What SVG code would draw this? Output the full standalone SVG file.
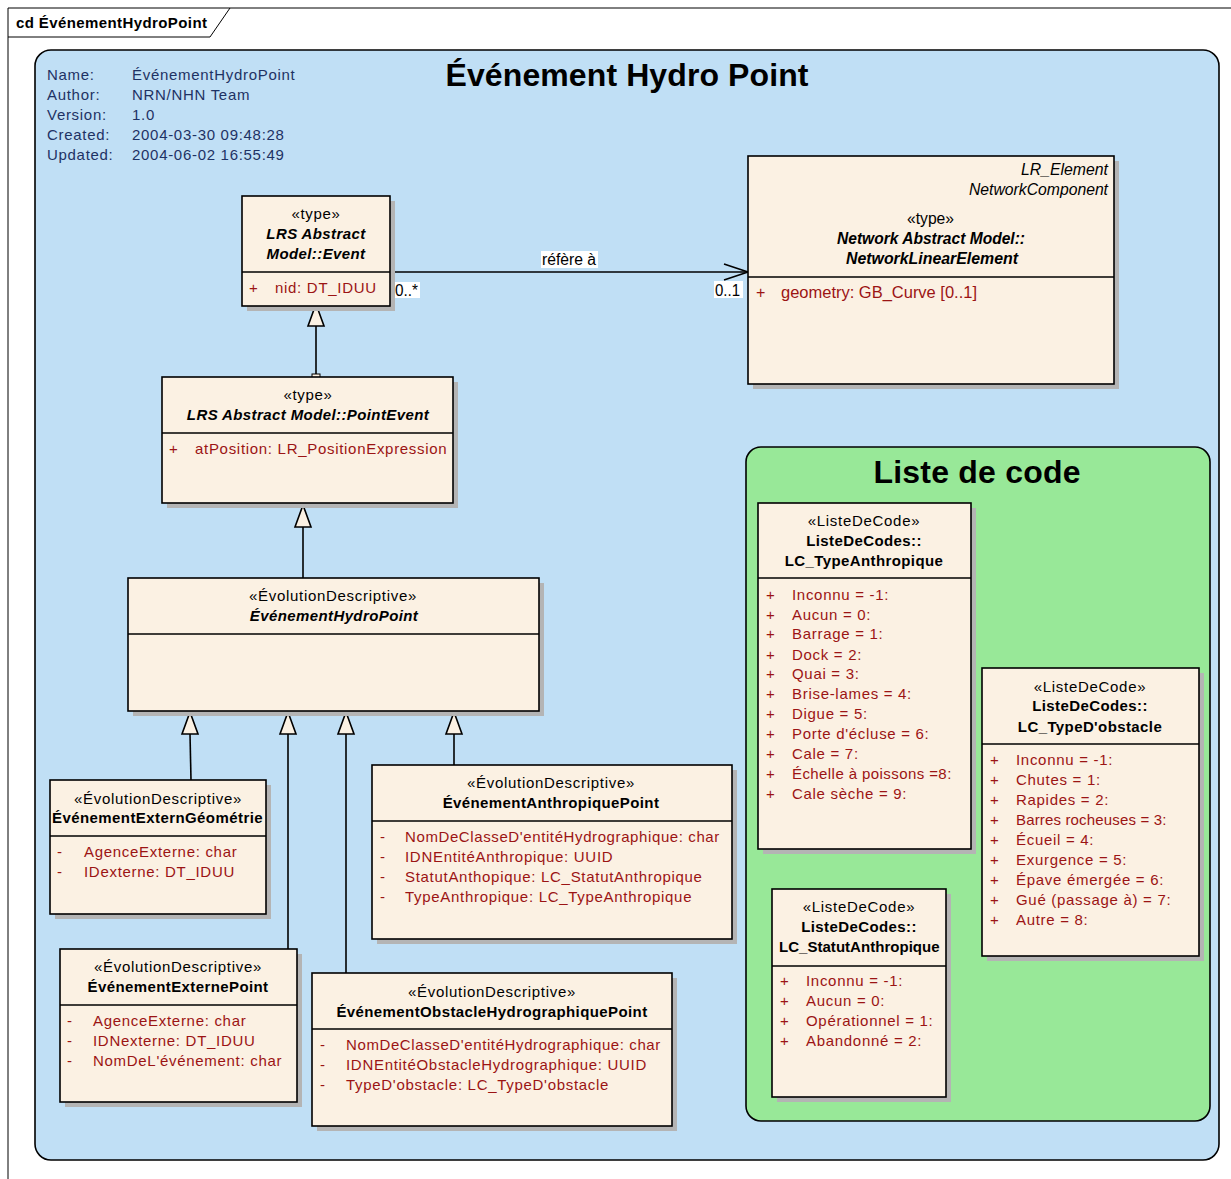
<svg xmlns="http://www.w3.org/2000/svg" width="1231" height="1179" viewBox="0 0 1231 1179" xml:space="preserve">
<defs>
<style>
text{font-family:"Liberation Sans",Arial,sans-serif;font-size:15px;letter-spacing:0.7px;fill:#000}
.meta{fill:#1e3264}
.box{fill:#fbf1e3;stroke:#000;stroke-width:1.6}
.sh{fill:#b4b4b4}
.div{stroke:#000;stroke-width:1.4}
.c{text-anchor:middle}
.b{font-weight:bold;letter-spacing:0.4px}
.bi{font-weight:bold;font-style:italic;letter-spacing:0.4px}
.i{font-style:italic}
.a{fill:#9b1414}
.ln{stroke:#000;stroke-width:1.6;fill:none}
.tri{fill:#fbf1e3;stroke:#000;stroke-width:1.6}
.lbl{fill:#fff}
.nw{font-size:16px;letter-spacing:0}
.ttl{font-weight:bold;font-size:32px;letter-spacing:0}
</style>
</defs>
<rect width="1231" height="1179" fill="#fff"/>
<g id="frame">
<path d="M8,1179 V8 H1231" fill="none" stroke="#000" stroke-width="1"/>
<path d="M8,37 H210 L230,8" fill="none" stroke="#000" stroke-width="1"/>
<text x="16" y="28" class="b">cd ÉvénementHydroPoint</text>
</g>
<g id="package-main">
<rect x="35" y="50" width="1184" height="1110" rx="16" fill="#c0dff5" stroke="#000" stroke-width="1.6"/>
<text x="627" y="86" class="c ttl" textLength="363">Événement Hydro Point</text>
<text x="47" y="80" class="meta">Name:</text><text x="132" y="80" class="meta">ÉvénementHydroPoint</text>
<text x="47" y="100" class="meta">Author:</text><text x="132" y="100" class="meta">NRN/NHN Team</text>
<text x="47" y="120" class="meta">Version:</text><text x="132" y="120" class="meta">1.0</text>
<text x="47" y="140" class="meta">Created:</text><text x="132" y="140" class="meta">2004-03-30 09:48:28</text>
<text x="47" y="160" class="meta">Updated:</text><text x="132" y="160" class="meta">2004-06-02 16:55:49</text>
</g>
<g id="package-codes">
<rect x="746" y="447" width="464" height="674" rx="15" fill="#98e898" stroke="#000" stroke-width="1.6"/>
<text x="977" y="483" class="c ttl" textLength="207">Liste de code</text>
</g>
<g id="connectors">
<line x1="390" y1="272" x2="748" y2="272" class="ln"/>
<polyline points="724,264 748,272 724,280" class="ln"/>
<rect x="541" y="251" width="57" height="17" class="lbl"/>
<text x="542" y="265" class="nw" textLength="54" lengthAdjust="spacingAndGlyphs">réfère à</text>
<rect x="393" y="282" width="27" height="16" class="lbl"/>
<text x="395" y="296" class="nw" textLength="23" lengthAdjust="spacingAndGlyphs">0..*</text>
<rect x="714" y="281" width="29" height="17" class="lbl"/>
<text x="715" y="296" class="nw" textLength="25" lengthAdjust="spacingAndGlyphs">0..1</text>
<line x1="316" y1="326" x2="316" y2="377" class="ln"/>
<rect x="312" y="374" width="8" height="4" fill="#fbf1e3" stroke="#000" stroke-width="1"/>
<polygon points="316,304 308,326 324,326" class="tri"/>
<line x1="303" y1="527" x2="303" y2="578" class="ln"/>
<polygon points="303,505 295,527 311,527" class="tri"/>
<line x1="190" y1="734" x2="191" y2="780" class="ln"/>
<polygon points="190,712 182,734 198,734" class="tri"/>
<line x1="288" y1="734" x2="288" y2="949" class="ln"/>
<polygon points="288,712 280,734 296,734" class="tri"/>
<line x1="346" y1="734" x2="346" y2="973" class="ln"/>
<polygon points="346,712 338,734 354,734" class="tri"/>
<line x1="454" y1="734" x2="454" y2="765" class="ln"/>
<polygon points="454,712 446,734 462,734" class="tri"/>
</g>
<g id="lrs-event">
<rect x="247" y="201" width="148" height="110" class="sh"/>
<rect x="242" y="196" width="148" height="110" class="box"/>
<line x1="242" y1="272" x2="390" y2="272" class="div"/>
<text x="316" y="219" class="c">«type»</text>
<text x="316" y="239" class="c bi">LRS Abstract</text>
<text x="316" y="259" class="c bi">Model::Event</text>
<text x="249" y="293" class="a">+</text><text x="275" y="293" class="a">nid:  DT_IDUU</text>
</g>
<g id="network-linear-element">
<rect x="753" y="161" width="366" height="228" class="sh"/>
<rect x="748" y="156" width="366" height="228" class="box"/>
<line x1="748" y1="277" x2="1114" y2="277" class="div"/>
<text x="1021" y="175" class="nw i" textLength="87" lengthAdjust="spacingAndGlyphs">LR_Element</text>
<text x="969" y="195" class="nw i" textLength="139" lengthAdjust="spacingAndGlyphs">NetworkComponent</text>
<text x="907" y="224" class="nw" textLength="47" lengthAdjust="spacingAndGlyphs">«type»</text>
<text x="837" y="244" class="nw bi" style="letter-spacing:0" textLength="188" lengthAdjust="spacingAndGlyphs">Network Abstract Model::</text>
<text x="846" y="264" class="nw bi" style="letter-spacing:0" textLength="172" lengthAdjust="spacingAndGlyphs">NetworkLinearElement</text>
<text x="756" y="298" class="nw a">+</text><text x="781" y="298" class="nw a" textLength="196" lengthAdjust="spacingAndGlyphs">geometry:  GB_Curve [0..1]</text>
</g>
<g id="lrs-point-event">
<rect x="167" y="382" width="291" height="126" class="sh"/>
<rect x="162" y="377" width="291" height="126" class="box"/>
<line x1="162" y1="433" x2="453" y2="433" class="div"/>
<text x="308" y="400" class="c">«type»</text>
<text x="308" y="420" class="c bi">LRS Abstract Model::PointEvent</text>
<text x="169" y="454" class="a">+</text><text x="195" y="454" class="a">atPosition:  LR_PositionExpression</text>
</g>
<g id="evenement-hydro-point">
<rect x="133" y="583" width="411" height="133" class="sh"/>
<rect x="128" y="578" width="411" height="133" class="box"/>
<line x1="128" y1="634" x2="539" y2="634" class="div"/>
<text x="333" y="601" class="c">«ÉvolutionDescriptive»</text>
<text x="334" y="621" class="c bi">ÉvénementHydroPoint</text>
</g>
<g id="extern-geometrie">
<rect x="55" y="785" width="216" height="134" class="sh"/>
<rect x="50" y="780" width="216" height="134" class="box"/>
<line x1="50" y1="836" x2="266" y2="836" class="div"/>
<text x="158" y="804" class="c">«ÉvolutionDescriptive»</text>
<text x="52" y="823" class="b" textLength="211">ÉvénementExternGéométrie</text>
<text x="57" y="857" class="a">-</text><text x="84" y="857" class="a">AgenceExterne:  char</text>
<text x="57" y="877" class="a">-</text><text x="84" y="877" class="a">IDexterne:  DT_IDUU</text>
</g>
<g id="externe-point">
<rect x="65" y="954" width="237" height="153" class="sh"/>
<rect x="60" y="949" width="237" height="153" class="box"/>
<line x1="60" y1="1005" x2="297" y2="1005" class="div"/>
<text x="178" y="972" class="c">«ÉvolutionDescriptive»</text>
<text x="178" y="992" class="c b">ÉvénementExternePoint</text>
<text x="67" y="1026" class="a">-</text><text x="93" y="1026" class="a">AgenceExterne:  char</text>
<text x="67" y="1046" class="a">-</text><text x="93" y="1046" class="a">IDNexterne:  DT_IDUU</text>
<text x="67" y="1066" class="a">-</text><text x="93" y="1066" class="a">NomDeL'événement:  char</text>
</g>
<g id="anthropique-point">
<rect x="377" y="770" width="360" height="174" class="sh"/>
<rect x="372" y="765" width="360" height="174" class="box"/>
<line x1="372" y1="821" x2="732" y2="821" class="div"/>
<text x="551" y="788" class="c">«ÉvolutionDescriptive»</text>
<text x="551" y="808" class="c b">ÉvénementAnthropiquePoint</text>
<text x="380" y="842" class="a">-</text><text x="405" y="842" class="a" textLength="315">NomDeClasseD'entitéHydrographique:  char</text>
<text x="380" y="862" class="a">-</text><text x="405" y="862" class="a">IDNEntitéAnthropique:  UUID</text>
<text x="380" y="882" class="a">-</text><text x="405" y="882" class="a">StatutAnthopique:  LC_StatutAnthropique</text>
<text x="380" y="902" class="a">-</text><text x="405" y="902" class="a">TypeAnthropique:  LC_TypeAnthropique</text>
</g>
<g id="obstacle-point">
<rect x="317" y="978" width="360" height="153" class="sh"/>
<rect x="312" y="973" width="360" height="153" class="box"/>
<line x1="312" y1="1029" x2="672" y2="1029" class="div"/>
<text x="492" y="997" class="c">«ÉvolutionDescriptive»</text>
<text x="492" y="1017" class="c b">ÉvénementObstacleHydrographiquePoint</text>
<text x="320" y="1050" class="a">-</text><text x="346" y="1050" class="a" textLength="315">NomDeClasseD'entitéHydrographique:  char</text>
<text x="320" y="1070" class="a">-</text><text x="346" y="1070" class="a">IDNEntitéObstacleHydrographique:  UUID</text>
<text x="320" y="1090" class="a">-</text><text x="346" y="1090" class="a">TypeD'obstacle:  LC_TypeD'obstacle</text>
</g>
<g id="lc-type-anthropique">
<rect x="763" y="508" width="213" height="346" class="sh"/>
<rect x="758" y="503" width="213" height="346" class="box"/>
<line x1="758" y1="578" x2="971" y2="578" class="div"/>
<text x="864" y="526" class="c">«ListeDeCode»</text>
<text x="864" y="546" class="c b">ListeDeCodes::</text>
<text x="864" y="566" class="c b">LC_TypeAnthropique</text>
<text x="766" y="600" class="a">+</text><text x="792" y="600" class="a">Inconnu = -1:</text>
<text x="766" y="620" class="a">+</text><text x="792" y="620" class="a">Aucun = 0:</text>
<text x="766" y="639" class="a">+</text><text x="792" y="639" class="a">Barrage = 1:</text>
<text x="766" y="660" class="a">+</text><text x="792" y="660" class="a">Dock = 2:</text>
<text x="766" y="679" class="a">+</text><text x="792" y="679" class="a">Quai = 3:</text>
<text x="766" y="699" class="a">+</text><text x="792" y="699" class="a">Brise-lames = 4:</text>
<text x="766" y="719" class="a">+</text><text x="792" y="719" class="a">Digue = 5:</text>
<text x="766" y="739" class="a">+</text><text x="792" y="739" class="a">Porte d'écluse = 6:</text>
<text x="766" y="759" class="a">+</text><text x="792" y="759" class="a">Cale = 7:</text>
<text x="766" y="779" class="a">+</text><text x="792" y="779" class="a" textLength="160">Échelle à poissons =8:</text>
<text x="766" y="799" class="a">+</text><text x="792" y="799" class="a">Cale sèche = 9:</text>
</g>
<g id="lc-type-obstacle">
<rect x="987" y="673" width="217" height="288" class="sh"/>
<rect x="982" y="668" width="217" height="288" class="box"/>
<line x1="982" y1="744" x2="1199" y2="744" class="div"/>
<text x="1090" y="692" class="c">«ListeDeCode»</text>
<text x="1090" y="711" class="c b">ListeDeCodes::</text>
<text x="1090" y="732" class="c b">LC_TypeD'obstacle</text>
<text x="990" y="765" class="a">+</text><text x="1016" y="765" class="a">Inconnu = -1:</text>
<text x="990" y="785" class="a">+</text><text x="1016" y="785" class="a">Chutes = 1:</text>
<text x="990" y="805" class="a">+</text><text x="1016" y="805" class="a">Rapides = 2:</text>
<text x="990" y="825" class="a">+</text><text x="1016" y="825" class="a" textLength="151">Barres rocheuses = 3:</text>
<text x="990" y="845" class="a">+</text><text x="1016" y="845" class="a">Écueil = 4:</text>
<text x="990" y="865" class="a">+</text><text x="1016" y="865" class="a">Exurgence = 5:</text>
<text x="990" y="885" class="a">+</text><text x="1016" y="885" class="a">Épave émergée = 6:</text>
<text x="990" y="905" class="a">+</text><text x="1016" y="905" class="a">Gué (passage à) = 7:</text>
<text x="990" y="925" class="a">+</text><text x="1016" y="925" class="a">Autre = 8:</text>
</g>
<g id="lc-statut-anthropique">
<rect x="777" y="894" width="174" height="208" class="sh"/>
<rect x="772" y="889" width="174" height="208" class="box"/>
<line x1="772" y1="966" x2="946" y2="966" class="div"/>
<text x="859" y="912" class="c">«ListeDeCode»</text>
<text x="859" y="932" class="c b">ListeDeCodes::</text>
<text x="779" y="952" class="b" textLength="161">LC_StatutAnthropique</text>
<text x="780" y="986" class="a">+</text><text x="806" y="986" class="a">Inconnu = -1:</text>
<text x="780" y="1006" class="a">+</text><text x="806" y="1006" class="a">Aucun = 0:</text>
<text x="780" y="1026" class="a">+</text><text x="806" y="1026" class="a">Opérationnel = 1:</text>
<text x="780" y="1046" class="a">+</text><text x="806" y="1046" class="a">Abandonné = 2:</text>
</g>
</svg>
